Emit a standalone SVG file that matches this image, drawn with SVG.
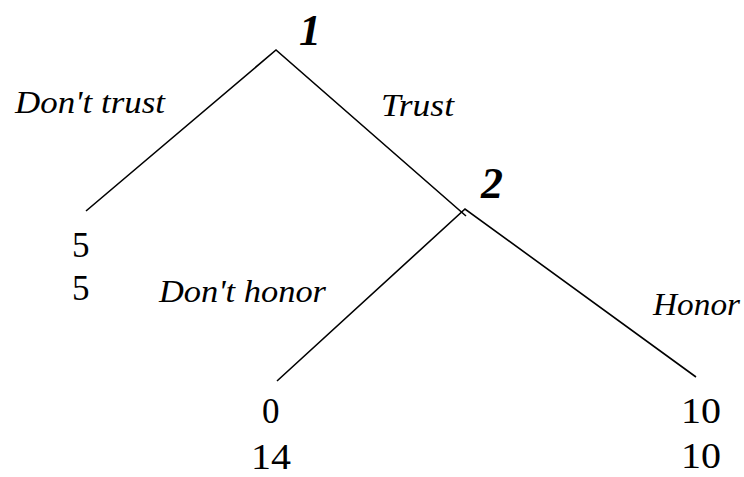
<svg xmlns="http://www.w3.org/2000/svg" width="744" height="477" viewBox="0 0 744 477">
<style>
text{font-family:"Liberation Serif","Times New Roman",serif}
.e{stroke:#000;stroke-width:1.6;fill:none}
.l{font-style:italic;font-size:31px}
.n{font-style:italic;font-weight:bold;font-size:44px}
.p{font-size:35px}
</style>
<rect width="744" height="477" fill="#fff"/>
<g id="connectors">
<path class="e" d="M86 211 L276 50 L466 216"/>
<path class="e" d="M277 381 L465 209 L696 377"/>
</g>
<g id="node1"><text class="n" x="299" y="45">1</text></g>
<g id="node2"><text class="n" x="481" y="198">2</text></g>
<g id="labels">
<text class="l" x="15" y="113" textLength="150" lengthAdjust="spacingAndGlyphs">Don't trust</text>
<text class="l" x="381" y="116" textLength="73" lengthAdjust="spacingAndGlyphs">Trust</text>
<text class="l" x="159" y="302" textLength="167" lengthAdjust="spacingAndGlyphs">Don't honor</text>
<text class="l" x="653" y="315" textLength="87" lengthAdjust="spacingAndGlyphs">Honor</text>
</g>
<g id="payoff1"><text class="p" x="72" y="257">5</text><text class="p" x="72" y="300">5</text></g>
<g id="payoff2"><text class="p" x="262" y="423">0</text><text class="p" x="251" y="469" textLength="40" lengthAdjust="spacingAndGlyphs">14</text></g>
<g id="payoff3"><text class="p" x="681" y="423" textLength="40" lengthAdjust="spacingAndGlyphs">10</text><text class="p" x="681" y="468" textLength="40" lengthAdjust="spacingAndGlyphs">10</text></g>
</svg>
